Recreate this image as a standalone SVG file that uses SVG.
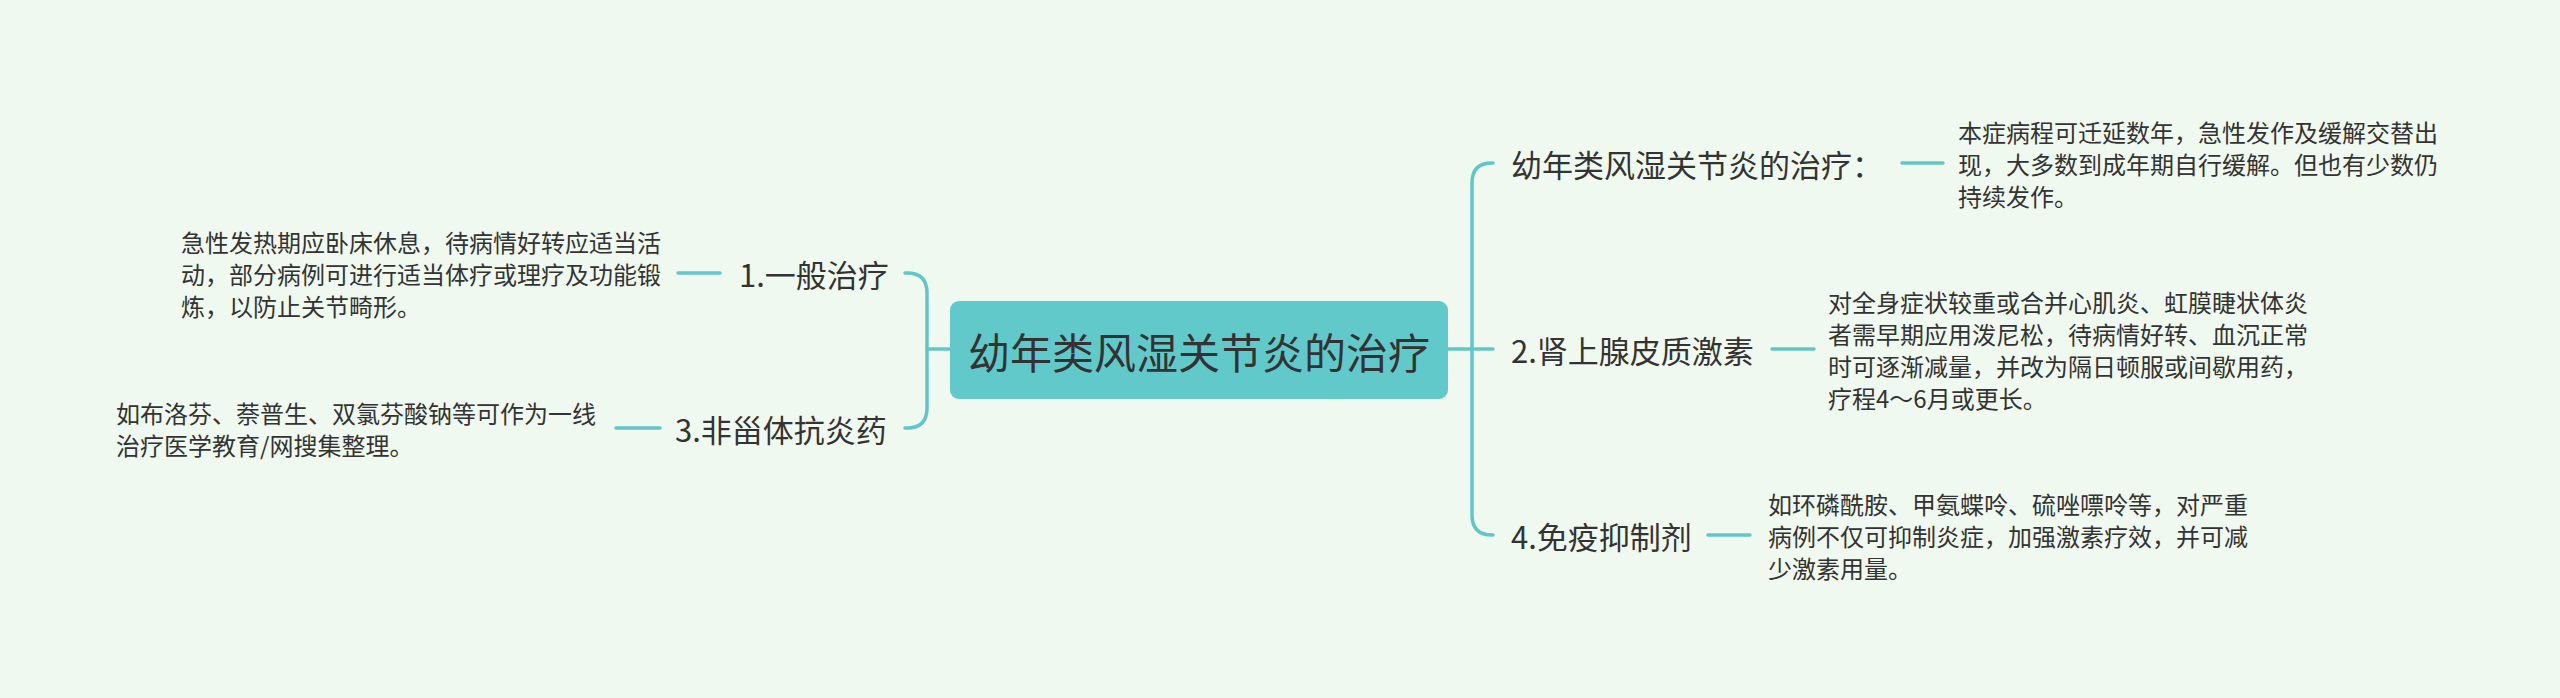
<svg xmlns="http://www.w3.org/2000/svg" width="2560" height="698" viewBox="0 0 2560 698">
<style>
text{font-family:"Noto Sans CJK SC","Noto Sans",sans-serif;fill:#333333;dominant-baseline:central}
.root{font-size:42px;text-anchor:middle}
.br{font-size:31px}
.lf{font-size:24px}
.ln{fill:none;stroke:#62c6c8;stroke-width:3.5;stroke-linecap:round}
</style>
<rect width="2560" height="698" fill="#f0f9f0"/>
<g id="connectors">
<path class="ln" d="M905,273 H907 Q927,273 927,293 V408 Q927,428 907,428 H905"/>
<path class="ln" d="M927,349 H950"/>
<path class="ln" d="M1448,349 H1493"/>
<path class="ln" d="M1493,163 H1492 Q1472,163 1472,183 V515 Q1472,535 1492,535 H1493"/>
<path class="ln" d="M678,273 H720"/>
<path class="ln" d="M616,428 H660"/>
<path class="ln" d="M1902,163 H1943"/>
<path class="ln" d="M1772,349 H1814"/>
<path class="ln" d="M1708,535 H1750"/>
</g>
<g id="root">
<rect x="950" y="301" width="498" height="98" rx="9" fill="#62c9cb"/>
<text class="root" x="1199" y="350">幼年类风湿关节炎的治疗</text>
</g>
<g id="b1">
<text class="br" x="739" y="273">1.一般治疗</text>
</g>
<g id="b1-leaf">
<text class="lf" x="181" y="241">急性发热期应卧床休息，待病情好转应适当活</text>
<text class="lf" x="181" y="273">动，部分病例可进行适当体疗或理疗及功能锻</text>
<text class="lf" x="181" y="305">炼，以防止关节畸形。</text>
</g>
<g id="b3">
<text class="br" x="675" y="428">3.非甾体抗炎药</text>
</g>
<g id="b3-leaf">
<text class="lf" x="116" y="412">如布洛芬、萘普生、双氯芬酸钠等可作为一线</text>
<text class="lf" x="116" y="444">治疗医学教育/网搜集整理。</text>
</g>
<g id="b0">
<text class="br" x="1511" y="163">幼年类风湿关节炎的治疗：</text>
</g>
<g id="b0-leaf">
<text class="lf" x="1958" y="131">本症病程可迁延数年，急性发作及缓解交替出</text>
<text class="lf" x="1958" y="163">现，大多数到成年期自行缓解。但也有少数仍</text>
<text class="lf" x="1958" y="195">持续发作。</text>
</g>
<g id="b2">
<text class="br" x="1511" y="349">2.肾上腺皮质激素</text>
</g>
<g id="b2-leaf">
<text class="lf" x="1828" y="301">对全身症状较重或合并心肌炎、虹膜睫状体炎</text>
<text class="lf" x="1828" y="333">者需早期应用泼尼松，待病情好转、血沉正常</text>
<text class="lf" x="1828" y="365">时可逐渐减量，并改为隔日顿服或间歇用药，</text>
<text class="lf" x="1828" y="397">疗程4～6月或更长。</text>
</g>
<g id="b4">
<text class="br" x="1511" y="535">4.免疫抑制剂</text>
</g>
<g id="b4-leaf">
<text class="lf" x="1768" y="503">如环磷酰胺、甲氨蝶呤、硫唑嘌呤等，对严重</text>
<text class="lf" x="1768" y="535">病例不仅可抑制炎症，加强激素疗效，并可减</text>
<text class="lf" x="1768" y="567">少激素用量。</text>
</g>
</svg>
